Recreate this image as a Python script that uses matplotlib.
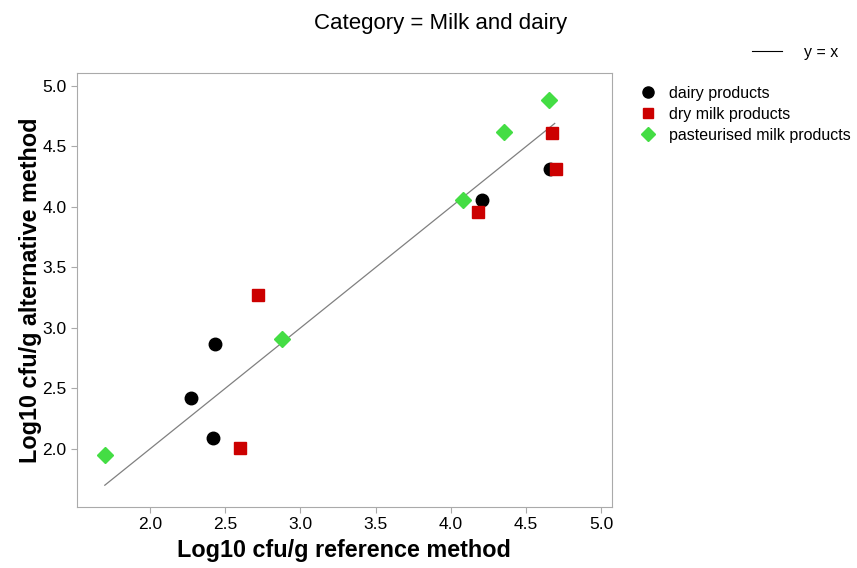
import matplotlib.pyplot as plt
from matplotlib.lines import Line2D

plt.rcParams['font.family'] = ['Liberation Sans', 'DejaVu Sans']

# log10 cfu/g, reference vs alternative method
dairy_ref = [2.27, 2.43, 2.42, 4.21, 4.66]
dairy_alt = [2.42, 2.87, 2.09, 4.06, 4.31]

dry_ref = [2.60, 2.72, 4.18, 4.67, 4.70]
dry_alt = [2.01, 3.27, 3.96, 4.61, 4.31]

past_ref = [1.70, 2.88, 4.08, 4.35, 4.65]
past_alt = [1.95, 2.91, 4.06, 4.62, 4.88]

ticks = [2.0, 2.5, 3.0, 3.5, 4.0, 4.5, 5.0]
line_range = [1.70, 4.69]

fig = plt.figure(figsize=(8.57, 5.68), dpi=100)
ax = fig.add_axes([0.0898, 0.1074, 0.6242, 0.7641])

ax.plot(line_range, line_range, color='#808080', lw=0.9, zorder=1)
ax.plot(dairy_ref, dairy_alt, 'o', color='black', ms=9, zorder=3)
ax.plot(dry_ref, dry_alt, 's', color='#cc0000', ms=8.5, zorder=3)
ax.plot(past_ref, past_alt, 'D', color='#44dd44', ms=8, zorder=3)

ax.set_xlim(1.515, 5.07)
ax.set_ylim(1.52, 5.107)
ax.set_xticks(ticks)
ax.set_yticks(ticks)
ax.set_xticklabels([f'{t:.1f}' for t in ticks])
ax.set_yticklabels([f'{t:.1f}' for t in ticks])
ax.tick_params(axis='both', direction='out', length=4, color='#aaaaaa', labelsize=12.5)
for s in ax.spines.values():
    s.set_color('#aaaaaa')

ax.set_xlabel('Log10 cfu/g reference method', fontsize=16.8, fontweight='bold', labelpad=5)
ax.set_ylabel('Log10 cfu/g alternative method', fontsize=16.8, fontweight='bold', labelpad=0)

fig.text(0.514, 0.958, 'Category = Milk and dairy', ha='center', va='center', fontsize=16)

# legend for the reference line
leg1 = fig.legend(handles=[Line2D([], [], color='black', lw=0.8)], labels=['y = x'],
                  loc='center left', bbox_to_anchor=(0.8603, 0.908), frameon=False,
                  fontsize=11.5, handlelength=1.9, handletextpad=1.4)

handles = [
    Line2D([], [], marker='o', ls='', color='black', ms=8),
    Line2D([], [], marker='s', ls='', color='#cc0000', ms=7.5),
    Line2D([], [], marker='D', ls='', color='#44dd44', ms=7),
]
labels = ['dairy products', 'dry milk products', 'pasteurised milk products']
fig.legend(handles=handles, labels=labels, loc='upper left', bbox_to_anchor=(0.7403, 0.86),
           frameon=False, fontsize=11.5, handlelength=0.9, handletextpad=0.85,
           labelspacing=0.37, borderaxespad=0)

fig.savefig('out.png', dpi=100)
